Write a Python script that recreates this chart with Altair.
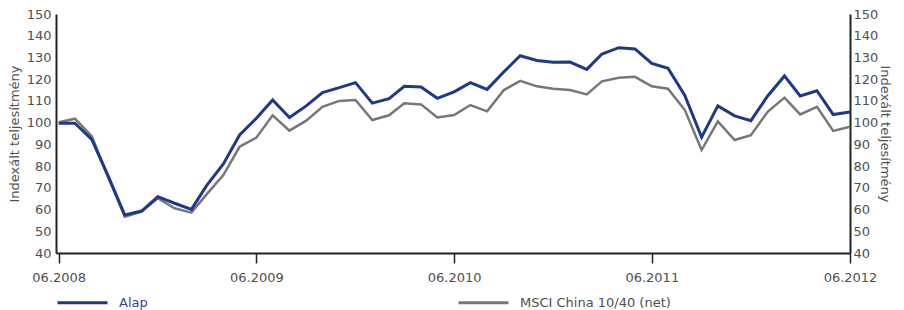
import altair as alt
import pandas as pd

# Monthly observations, 06.2008 - 06.2012
dates = [d.strftime("%Y-%m-%d") for d in pd.date_range("2008-06-01", "2012-06-01", freq="MS")]

alap = [99.7, 99.7, 92.3, 75.0, 57.5, 59.3, 65.9, 62.9, 60.1, 71.0,
        81.0, 94.3, 102.0, 110.4, 102.4, 107.7, 113.8, 116.1, 118.4, 109.0,
        111.0, 116.7, 116.4, 111.2, 114.2, 118.4, 115.3, 123.4, 130.8, 128.6,
        127.8, 127.9, 124.5, 131.6, 134.5, 133.9, 127.3, 125.0, 112.5, 93.3,
        107.7, 103.1, 100.9, 112.3, 121.5, 112.3, 114.7, 103.7, 104.9]

msci = [100.2, 101.8, 93.8, 74.5, 56.7, 59.0, 65.2, 60.6, 58.6, 67.0,
        75.9, 88.9, 93.1, 103.4, 96.3, 100.9, 107.3, 110.0, 110.4, 101.2,
        103.4, 108.9, 108.4, 102.4, 103.5, 108.1, 105.2, 115.0, 119.2, 116.7,
        115.6, 115.0, 113.0, 119.0, 120.7, 121.1, 116.7, 115.6, 105.8, 87.4,
        100.6, 92.0, 94.2, 105.0, 111.5, 103.8, 107.3, 96.2, 98.1]

series_names = ["Alap", "MSCI China 10/40 (net)"]
y_ticks = list(range(40, 151, 10))
x_tick_years = [2008, 2009, 2010, 2011, 2012]

BLUE = "#1d3a8a"
GRAY = "#777777"
TEXT = "#505050"
AXIS = "#222222"
FONT = "DejaVu Sans"
FS = 13

df = pd.DataFrame({
    "date": dates * 2,
    "value": alap + msci,
    "series": [series_names[0]] * len(alap) + [series_names[1]] * len(msci),
})

x_enc = alt.X(
    "date:T",
    scale=alt.Scale(
        type="utc",
        domain=[alt.DateTime(year=2008, month=5, date=27, utc=True),
                alt.DateTime(year=2012, month=6, date=1, utc=True)],
    ),
    axis=alt.Axis(
        values=[alt.DateTime(year=y, month=6, date=1, utc=True) for y in x_tick_years],
        labelExpr="utcFormat(datum.value, '%m.%Y')",
        title=None, grid=False,
        domainColor=AXIS, domainWidth=2, tickColor=AXIS, tickWidth=1.5, tickSize=10,
        labelPadding=8, labelColor=TEXT, labelFont=FONT, labelFontSize=FS,
        labelAlign="center", labelFlush=False, labelOverlap=False,
    ),
)

yscale = alt.Scale(domain=[40, 150], nice=False, zero=False)

left_axis = alt.Axis(
    orient="left", values=y_ticks, ticks=False, grid=False,
    domainColor=AXIS, domainWidth=2, labelPadding=5,
    labelColor=TEXT, labelFont=FONT, labelFontSize=FS,
    title="Indexált teljesítmény", titleColor=TEXT, titleFont=FONT,
    titleFontSize=FS, titleFontWeight="normal", titlePadding=5,
)
right_axis = alt.Axis(
    orient="right", values=y_ticks, ticks=False, grid=False,
    domainColor=AXIS, domainWidth=2, labelPadding=3,
    labelColor=TEXT, labelFont=FONT, labelFontSize=FS,
    title="Indexált teljesítmény", titleColor=TEXT, titleFont=FONT,
    titleFontSize=FS, titleFontWeight="normal", titlePadding=0,
)

color_enc = alt.Color(
    "series:N",
    scale=alt.Scale(domain=series_names, range=[BLUE, GRAY]),
    legend=alt.Legend(
        title=None, orient="none", legendX=0, legendY=262,
        direction="horizontal", columns=2, columnPadding=304,
        symbolType="stroke", symbolSize=2500, symbolStrokeWidth=3,
        labelOffset=10, labelFont=FONT, labelFontSize=FS,
        labelColor={"expr": "datum.value === 'Alap' ? '#2f4696' : '#505050'"},
    ),
)

base = alt.Chart(df).encode(x=x_enc, color=color_enc)

gray_layer = base.transform_filter(
    alt.datum.series == series_names[1]
).mark_line(strokeWidth=2.5).encode(
    y=alt.Y("value:Q", scale=yscale, axis=left_axis)
)

blue_layer = base.transform_filter(
    alt.datum.series == series_names[0]
).mark_line(strokeWidth=3).encode(
    y=alt.Y("value:Q", scale=yscale, axis=right_axis)
)

chart = alt.layer(gray_layer, blue_layer).resolve_scale(
    y="independent"
).properties(
    width=794, height=239,
    padding={"left": 0, "top": 0, "right": 3, "bottom": 0},
).configure_view(stroke=None)

chart.save("out.html", embed_options={"renderer": "svg", "actions": False})
